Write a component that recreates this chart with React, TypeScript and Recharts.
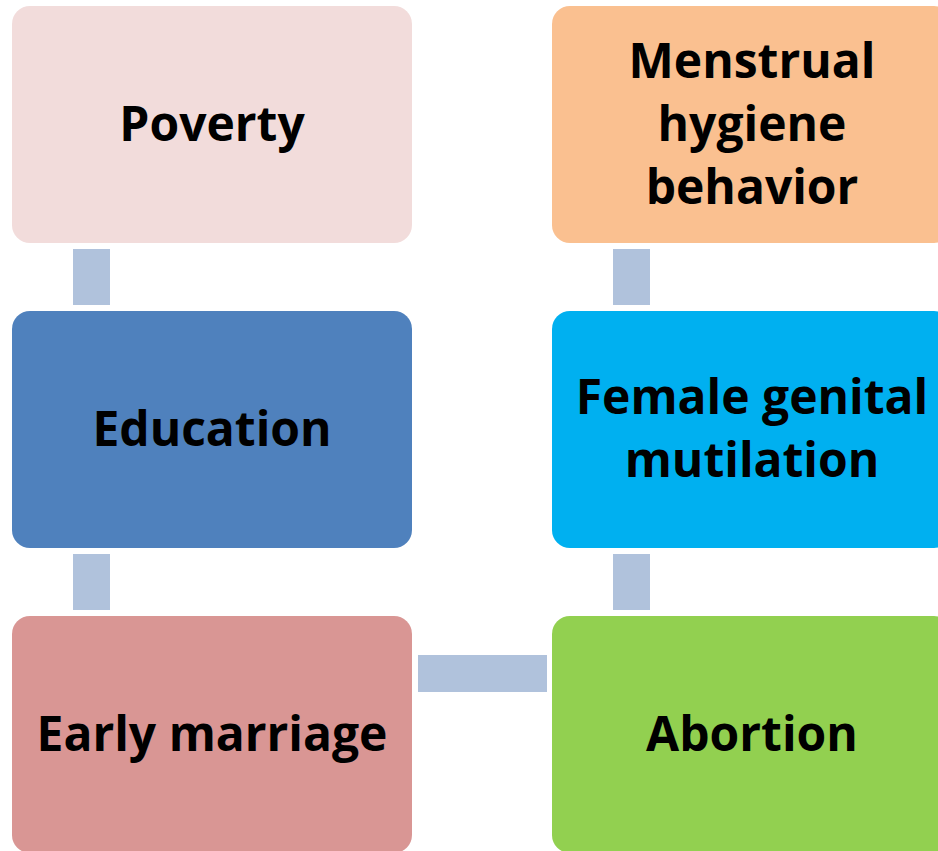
import { ScatterChart, Scatter, XAxis, YAxis } from 'recharts';

// boxes of the diagram (column / row in the grid)
const boxLabels = [
    ['Poverty'],
    ['Education'],
    ['Early marriage'],
    ['Menstrual', 'hygiene', 'behavior'],
    ['Female genital', 'mutilation'],
    ['Abortion'],
];
const boxColumns = [0, 0, 0, 1, 1, 1];
const boxRows = [0, 1, 2, 0, 1, 2];
const boxColors = ['#f2dcdb', '#4f81bd', '#d99694', '#fac090', '#00b0f0', '#92d050'];

// connectors between boxes (index into the box arrays)
const linkFrom = [0, 1, 2, 3, 4];
const linkTo = [1, 2, 5, 4, 5];

const W = 938;
const H = 851;
const BOX_W = 400;
const BOX_H = 237;
const COL_X0 = 212;
const COL_STEP = 540;
const ROW_Y0 = 124.5;
const ROW_STEP = 305;
const LINE_H = 63;

const boxData = boxLabels.map((lines, i) => ({
    col: boxColumns[i],
    row: boxRows[i],
    lines,
    color: boxColors[i],
}));

const linkData = linkFrom.map((f, i) => {
    const t = linkTo[i];
    return {
        col: (boxColumns[f] + boxColumns[t]) / 2,
        row: (boxRows[f] + boxRows[t]) / 2,
        vertical: boxColumns[f] === boxColumns[t],
    };
});

const BoxShape = (props: any) => {
    const { cx, cy, payload } = props;
    const lines: string[] = payload.lines;
    const first = cy + 16 - ((lines.length - 1) * LINE_H) / 2;
    return (
        <g>
            <rect
                x={cx - BOX_W / 2}
                y={cy - BOX_H / 2}
                width={BOX_W}
                height={BOX_H}
                rx={18}
                ry={18}
                fill={payload.color}
            />
            {lines.map((l, i) => (
                <text
                    key={i}
                    x={cx}
                    y={first + i * LINE_H}
                    textAnchor="middle"
                    fontFamily="'Open Sans', sans-serif"
                    fontWeight={700}
                    fontSize={48}
                    fill="#000"
                >
                    {l}
                </text>
            ))}
        </g>
    );
};

const LinkShape = (props: any) => {
    const { cx, cy, payload } = props;
    if (payload.vertical) {
        return <rect x={cx - 139} y={cy - 28} width={37} height={56} fill="#b0c2dc" />;
    }
    return <rect x={cx - 64} y={cy - 61 - 18.5} width={129} height={37} fill="#b0c2dc" />;
};

export default function App() {
    return (
        <div style={{ position: 'absolute', left: 0, top: 0, background: '#fff' }}>
            <ScatterChart width={W} height={H} margin={{ top: 0, right: 0, bottom: 0, left: 0 }}>
                <XAxis
                    type="number"
                    dataKey="col"
                    hide
                    allowDataOverflow
                    domain={[-COL_X0 / COL_STEP, (W - COL_X0) / COL_STEP]}
                />
                <YAxis
                    type="number"
                    dataKey="row"
                    hide
                    reversed
                    allowDataOverflow
                    domain={[-ROW_Y0 / ROW_STEP, (H - ROW_Y0) / ROW_STEP]}
                />
                <Scatter data={linkData} shape={LinkShape} isAnimationActive={false} />
                <Scatter data={boxData} shape={BoxShape} isAnimationActive={false} />
            </ScatterChart>
        </div>
    );
}
